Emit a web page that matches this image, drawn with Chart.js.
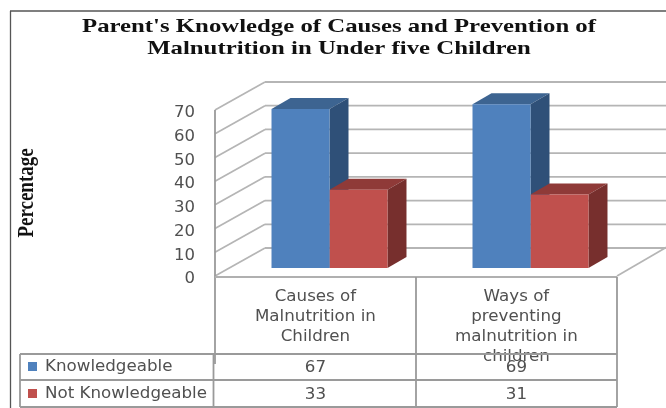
<!DOCTYPE html>
<html>
<head>
<meta charset="utf-8">
<style>
  html, body { margin: 0; padding: 0; background: #fff; }
  #wrap { position: relative; width: 666px; height: 408px; }
</style>
<script src="https://cdn.jsdelivr.net/npm/chart.js@4"></script>
</head>
<body>
<div id="wrap"><canvas id="chart" width="666" height="408"></canvas></div>
<script>
const categories = [
  ['Causes of', 'Malnutrition in', 'Children'],
  ['Ways of', 'preventing', 'malnutrition in', 'children']
];
const seriesNames = ['Knowledgeable', 'Not Knowledgeable'];
const knowledgeable = [67, 69];
const notKnowledgeable = [33, 31];
const tickValues = [0, 10, 20, 30, 40, 50, 60, 70];
const titleLines = ["Parent's Knowledge of Causes and Prevention of", 'Malnutrition in Under five Children'];
const axisTitle = 'Percentage';

const seriesColors = ['#4F81BD', '#C0504D'];
const topColors = ['#3D6491', '#8F3A38'];
const sideColors = ['#2F5078', '#772F2D'];
const gridColor = '#b5b5b5';
const tableColor = '#9a9a9a';
const labelColor = '#505050';
const labelFont = '16.7px "DejaVu Sans"';

// Projection of the 3D box: bars sit part way into the floor.
const frontShift = { x: -14, y: 8 };
const backShift = { x: 36, y: -20 };
const barDepth = { x: 19, y: -11 };

const table = { left: 20, axis: 215, right: 617, top: 277, rows: [354, 380, 407], mid: 416 };

function polygon(ctx, pts, fill) {
  ctx.beginPath();
  pts.forEach((p, i) => (i ? ctx.lineTo(p[0], p[1]) : ctx.moveTo(p[0], p[1])));
  ctx.closePath();
  ctx.fillStyle = fill;
  ctx.fill();
}

function line(ctx, x1, y1, x2, y2, color, width) {
  ctx.beginPath();
  ctx.moveTo(x1, y1);
  ctx.lineTo(x2, y2);
  ctx.strokeStyle = color;
  ctx.lineWidth = width;
  ctx.stroke();
}

const chartBox = {
  id: 'chartBox',
  beforeDatasetsDraw(chart) {
    const { ctx, chartArea, scales } = chart;
    const y = scales.y;
    ctx.save();
    const frontX = chartArea.left + frontShift.x;
    const backX = chartArea.left + backShift.x;
    const frontRight = table.right;
    const backRight = 666;

    // Walls and floor gridlines at every major value
    tickValues.forEach(v => {
      const p = y.getPixelForValue(v);
      line(ctx, frontX, p + frontShift.y, backX, p + backShift.y, gridColor, 1.7);
      line(ctx, backX, p + backShift.y, backRight, p + backShift.y, gridColor, 1.8);
    });
    const base = y.getPixelForValue(0);
    line(ctx, frontRight, base + frontShift.y, backRight + 1, base + backShift.y - 1, gridColor, 1.7);

    // Depth faces of each bar, back-to-front so the nearer series overlaps
    chart.data.datasets.forEach((ds, i) => {
      chart.getDatasetMeta(i).data.forEach(bar => {
        const l = bar.x - bar.width / 2, r = bar.x + bar.width / 2;
        const dx = barDepth.x, dy = barDepth.y;
        polygon(ctx, [[l, bar.y], [l + dx, bar.y + dy], [r + dx, bar.y + dy], [r, bar.y]], topColors[i]);
        polygon(ctx, [[r, bar.y], [r + dx, bar.y + dy], [r + dx, bar.base + dy], [r, bar.base]], sideColors[i]);
      });
    });
    ctx.restore();
  },
  afterDraw(chart) {
    const { ctx, scales } = chart;
    const y = scales.y;
    ctx.save();

    // Page frame
    line(ctx, 10.5, 408, 10.5, 11, '#555', 1.3);
    line(ctx, 10, 11, 666, 11, '#555', 1.3);

    // Chart heading, widened to span the plot
    ctx.fillStyle = '#111';
    ctx.font = 'bold 19px "Liberation Serif"';
    ctx.textAlign = 'center';
    ctx.textBaseline = 'alphabetic';
    const headingWidth = 514;
    const stretch = headingWidth / ctx.measureText(titleLines[0]).width;
    titleLines.forEach((t, i) => {
      ctx.save();
      ctx.translate(339, 32 + i * 22);
      ctx.scale(stretch, 1);
      ctx.fillText(t, 0, 0);
      ctx.restore();
    });

    // Vertical axis caption with tall, narrow lettering
    ctx.save();
    ctx.translate(33, 193);
    ctx.rotate(-Math.PI / 2);
    ctx.scale(0.79, 1);
    ctx.font = 'bold 24px "Liberation Serif"';
    ctx.fillText(axisTitle, 0, 0);
    ctx.restore();

    // Data table grid
    const front0 = y.getPixelForValue(0) + frontShift.y;
    const front70 = y.getPixelForValue(70) + frontShift.y;
    line(ctx, table.axis, front70, table.axis, 364, tableColor, 1.8);
    line(ctx, table.axis, front0 + 1, table.right, front0 + 1, '#b0b0b0', 1.8);
    line(ctx, table.mid, table.top, table.mid, table.rows[2], tableColor, 1.8);
    line(ctx, table.right, table.top, table.right, table.rows[2], tableColor, 1.8);
    line(ctx, table.left, table.rows[0], table.left, table.rows[2], tableColor, 1.8);
    line(ctx, table.axis - 1.5, table.rows[0], table.axis - 1.5, table.rows[2], tableColor, 1.8);
    table.rows.forEach(r => line(ctx, table.left, r, table.right, r, tableColor, 1.8));

    // Data table rows: legend key, series name, one value per category
    const series = [knowledgeable, notKnowledgeable];
    const rowCentre = [367, 394];
    ctx.font = labelFont;
    ctx.textBaseline = 'middle';
    series.forEach((vals, i) => {
      const c = rowCentre[i];
      ctx.fillStyle = seriesColors[i];
      ctx.fillRect(28, c - 5, 9, 9);
      ctx.fillStyle = labelColor;
      ctx.textAlign = 'left';
      ctx.fillText(seriesNames[i], 45, c);
      ctx.textAlign = 'center';
      vals.forEach((v, j) => {
        ctx.fillText(String(v), scales.xLabels.getPixelForValue(j), c + 1);
      });
    });
    ctx.restore();
  }
};

new Chart(document.getElementById('chart'), {
  type: 'bar',
  data: {
    labels: categories,
    datasets: [
      { label: seriesNames[0], data: knowledgeable, backgroundColor: seriesColors[0], xAxisID: 'x', yAxisID: 'y' },
      { label: seriesNames[1], data: notKnowledgeable, backgroundColor: seriesColors[1], xAxisID: 'x', yAxisID: 'y' }
    ]
  },
  options: {
    responsive: false,
    animation: false,
    devicePixelRatio: 1,
    categoryPercentage: 0.577,
    barPercentage: 1,
    layout: { padding: { left: 12, right: 35, top: 102, bottom: 0 } },
    plugins: { legend: { display: false }, title: { display: false }, tooltip: { enabled: false } },
    scales: {
      // Value axis for the bar plane; its zero sits above the front edge
      y: {
        display: false,
        min: -8 / 2.371,
        max: 70,
        grid: { display: false }
      },
      // Value axis along the front edge of the left wall
      yFront: {
        position: 'left',
        min: 0,
        max: 70 + 8 / 2.371,
        afterBuildTicks: s => { s.ticks = tickValues.map(value => ({ value })); },
        afterFit: s => { s.width = 217; },
        grid: { display: false, drawTicks: false },
        border: { display: false },
        ticks: { padding: 34, labelOffset: 3, color: labelColor, font: { family: 'DejaVu Sans', size: 16.5 } }
      },
      x: {
        display: false,
        grid: { display: false }
      },
      // Category captions, centred on the table columns
      xLabels: {
        type: 'linear',
        position: 'bottom',
        offset: false,
        min: -0.43,
        max: 1.57,
        afterBuildTicks: s => { s.ticks = categories.map((_, value) => ({ value })); },
        afterFit: s => { s.height = 132; },
        grid: { display: false, drawTicks: false, offset: false },
        border: { display: false },
        ticks: {
          padding: 11,
          maxRotation: 0,
          autoSkip: false,
          color: labelColor,
          font: { family: 'DejaVu Sans', size: 16.7, lineHeight: 1.19 },
          callback: v => categories[v]
        }
      }
    }
  },
  plugins: [chartBox]
});
</script>
</body>
</html>
